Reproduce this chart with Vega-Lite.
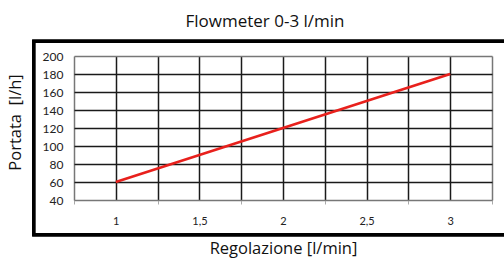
{
  "$schema": "https://vega.github.io/schema/vega-lite/v6.json",
  "autosize": {"type": "none"},
  "width": 418,
  "height": 144,
  "padding": {"left": 74, "top": 56, "right": 12, "bottom": 59},
  "background": "white",
  "title": {
    "text": "Flowmeter 0-3 l/min",
    "font": "Open Sans",
    "fontSize": 17,
    "fontWeight": "normal",
    "color": "#111",
    "anchor": "middle",
    "dx": -18,
    "dy": 4,
    "baseline": "alphabetic",
    "offset": 0
  },
  "config": {
    "view": {"stroke": null},
    "axis": {"labelFont": "Lato", "titleFont": "Open Sans", "titleFontWeight": "normal", "titleColor": "#111", "labelColor": "#222"}
  },
  "data": {
    "values": [
      {"regolazione": 1, "portata": 60},
      {"regolazione": 1.5, "portata": 90},
      {"regolazione": 2, "portata": 120},
      {"regolazione": 2.5, "portata": 150},
      {"regolazione": 3, "portata": 180}
    ]
  },
  "layer": [
    {
      "mark": {"type": "line", "color": "#e8201c", "strokeWidth": 2.6},
      "encoding": {
        "x": {
          "field": "regolazione",
          "type": "quantitative",
          "scale": {"domain": [0.75, 3.25], "nice": false, "zero": false},
          "axis": {
            "title": "Regolazione [l/min]",
            "titleFontSize": 16.5,
            "titleBaseline": "alphabetic",
            "titleY": 53,
            "values": [0.75, 1, 1.25, 1.5, 1.75, 2, 2.25, 2.5, 2.75, 3, 3.25],
            "tickCount": 30,
            "labelExpr": "datum.value % 0.5 === 0 ? replace(format(datum.value, '~g'), '.', ',') : ''",
            "labelOverlap": false,
            "labelFlush": false,
            "labelFontSize": 11,
            "labelPadding": 11,
            "tickSize": 4,
            "tickColor": "#aaa",
            "tickOpacity": {"condition": {"test": "datum.value % 0.5 !== 0", "value": 1}, "value": 0},
            "domainColor": "#777",
            "domainWidth": 1.2,
            "grid": true,
            "gridColor": {"condition": {"test": "datum.value === 0.75 || datum.value === 3.25", "value": "#777"}, "value": "#1a1a1a"},
            "gridWidth": 1.5,
            "gridOpacity": 1
          }
        },
        "y": {
          "field": "portata",
          "type": "quantitative",
          "scale": {"domain": [40, 200], "nice": false, "zero": false},
          "axis": {
            "title": "Portata \u00a0[l/h]",
            "titleFontSize": 16.5,
            "titleX": -51,
            "titleY": 66,
            "values": [40, 60, 80, 100, 120, 140, 160, 180, 200],
            "tickCount": 30,
            "labelOverlap": false,
            "labelFontSize": 12,
            "labelPadding": 11,
            "ticks": false,
            "domain": false,
            "grid": true,
            "gridColor": {"condition": {"test": "datum.value === 40 || datum.value === 200", "value": "#777"}, "value": "#1a1a1a"},
            "gridWidth": 1.5,
            "gridOpacity": 1
          }
        }
      }
    },
    {
      "mark": {"type": "rect", "fill": null, "stroke": "#000", "strokeWidth": 3, "clip": false},
      "encoding": {
        "x": {"datum": 0.509, "type": "quantitative"},
        "x2": {"datum": 3.37},
        "y": {"datum": 216.3, "type": "quantitative"},
        "y2": {"datum": 1.4}
      }
    }
  ]
}
